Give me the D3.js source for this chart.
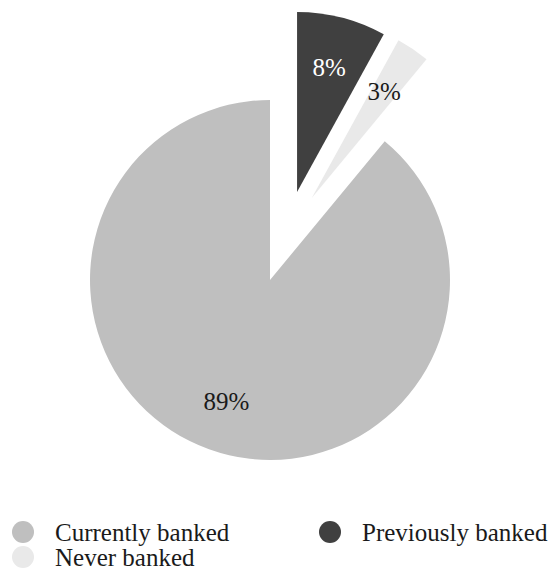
<!DOCTYPE html>
<html>
<head>
<meta charset="utf-8">
<script src="https://cdn.jsdelivr.net/npm/d3@7"></script>
<style>
    body { margin: 0; }
    svg text { font-family: 'Liberation Serif', 'Times New Roman', serif !important; }
</style>
</head>
<body>
<script>
const categories = ["Currently banked", "Previously banked", "Never banked"]
const shares = [89, 8, 3]
const labels = ["89%", "8%", "3%"]
const colors = ["#bfbfbf", "#404040", "#e9e9e9"]
const labelColors = ["#1a1a1a", "#ffffff", "#1a1a1a"]
const exploded = [false, true, true]

const width = 555, height = 573
const cx = 270, cy = 280, radius = 180
const explodeBy = 92
const serif = "'Liberation Serif', 'Times New Roman', serif"

const svg = d3.select("body")
    .append("svg")
    .attr("width", width)
    .attr("height", height)

const data = categories.map((c, i) => ({ name: c, value: shares[i], i: i }))

// exploded slices first so they sit clockwise from 12 o'clock
const order = [1, 2, 0]
const pie = d3.pie()
    .value(d => d.value)
    .sort((a, b) => order.indexOf(a.i) - order.indexOf(b.i))

const arcs = pie(data)
const arc = d3.arc().innerRadius(0).outerRadius(radius)
const labelArc = d3.arc().innerRadius(129).outerRadius(129)

// shared direction of the pulled-out group
const groupArcs = arcs.filter(a => exploded[a.data.i])
const groupMid = (d3.min(groupArcs, a => a.startAngle) + d3.max(groupArcs, a => a.endAngle)) / 2

function offset(a) {
    if (!exploded[a.data.i]) return [0, 0]
    const ang = ((a.startAngle + a.endAngle) / 2 + groupMid) / 2
    return [Math.sin(ang) * explodeBy, -Math.cos(ang) * explodeBy]
}

svg.append("g")
    .attr("transform", `translate(${cx},${cy})`)
    .selectAll("path")
    .data(arcs)
    .join("path")
    .attr("transform", a => `translate(${offset(a)})`)
    .attr("d", arc)
    .attr("fill", a => colors[a.data.i])

// labels sit directly in the svg
svg.selectAll(".lbl")
    .data(arcs)
    .join("text")
    .attr("class", "lbl")
    .attr("x", a => cx + offset(a)[0] + labelArc.centroid(a)[0])
    .attr("y", a => cy + offset(a)[1] + labelArc.centroid(a)[1] + 9)
    .attr("text-anchor", "middle")
    .style("font-family", serif, "important")
    .style("font-size", "25px")
    .attr("fill", a => labelColors[a.data.i])
    .text(a => labels[a.data.i])

// legend, two columns
const lx = (d, i) => i % 2 ? 330 : 23
const ly = (d, i) => 532 + Math.floor(i / 2) * 25

svg.selectAll("circle")
    .data(categories)
    .join("circle")
    .attr("cx", lx)
    .attr("cy", ly)
    .attr("r", 11)
    .attr("fill", (d, i) => colors[i])

svg.selectAll(".leg")
    .data(categories)
    .join("text")
    .attr("class", "leg")
    .attr("x", (d, i) => lx(d, i) + 32)
    .attr("y", (d, i) => ly(d, i) + 9)
    .style("font-family", serif, "important")
    .style("font-size", "25px")
    .attr("fill", "#1a1a1a")
    .text(d => d)
</script>
</body>
</html>
